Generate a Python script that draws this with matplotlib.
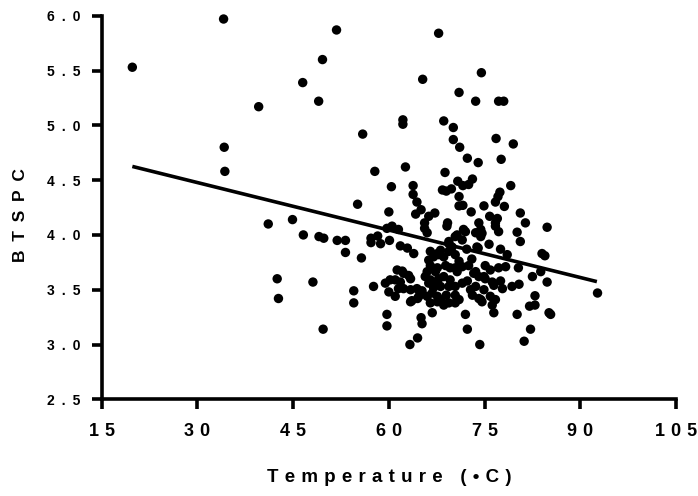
import matplotlib
matplotlib.use("Agg")
import matplotlib.pyplot as plt
import numpy as np

plt.rcParams['font.family'] = ['Liberation Sans', 'DejaVu Sans']

# scatter points (temperature degC, BTSPC)
temp = [
    19.8, 34.1, 34.2, 34.3, 39.6, 46.5, 49.6, 49.0, 51.8, 67.8, 65.3, 74.5, 71.0, 73.6, 77.2, 78.0,
    62.2, 62.2, 68.6, 70.1, 55.9, 70.1, 71.1, 76.8, 79.5, 72.3, 74.0, 77.6, 57.8, 62.6, 68.8, 70.8,
    71.6, 72.5, 73.1, 60.4, 63.8, 63.8, 68.4, 69.0, 69.8, 71.0, 79.1, 77.4, 77.1, 76.7,
    41.1, 44.9, 46.6, 49.05, 49.8, 42.5, 42.7, 48.1, 49.7, 92.7,
    71.0, 71.6, 72.9, 74.9, 78.1, 75.8, 77.0, 80.6, 74.1, 76.7, 81.4, 84.8,
    64.4, 65.05, 64.2, 55.1, 60.0, 66.25, 67.2, 65.6, 69.2,
    51.9, 53.2, 53.2, 55.7, 57.2, 58.25, 57.2, 58.7, 59.7, 60.5, 61.5, 60.1, 61.8, 62.9, 63.9,
    65.6, 66.0, 69.1, 69.4, 69.9, 66.25, 67.0, 67.8, 68.6, 66.5, 67.6, 68.9, 69.6, 66.0, 67.3,
    61.3, 62.1, 63.1, 63.4, 65.7, 66.5, 67.8, 68.6, 69.6, 57.6, 59.45, 60.2, 60.0, 61.0,
    61.5, 62.3, 63.4, 64.4, 65.2, 63.6, 64.5, 66.0, 66.8, 67.6, 66.5, 67.6, 68.6, 69.4,
    54.5, 54.5, 59.7, 59.7, 65.05, 65.2, 66.8, 64.5, 63.3, 66.5, 67.6, 68.1,
    68.1, 69.4, 70.7, 66.25, 67.6, 62.3, 61.0, 61.8, 64.7, 63.4, 69.0, 68.2, 67.0,
    73.6, 74.4, 74.4, 76.7, 77.2, 80.1, 80.6, 70.4, 71.5, 75.7, 74.0, 77.5, 78.55, 84.0, 84.45,
    70.4, 71.0, 70.4, 71.5, 75.1, 75.9, 77.2, 78.3, 73.6, 74.1, 74.9, 80.3, 82.5, 83.8, 84.8,
    71.5, 70.4, 76.2, 77.5, 77.8, 79.3, 80.4, 73.6, 74.9,
    70.4, 71.0, 70.4, 73.1, 74.4, 75.9, 76.7, 76.2, 82.9, 82.05, 82.9,
    72.0, 76.45, 80.1, 85.1, 85.35, 72.3, 82.2, 74.25, 81.2,
    70.7, 71.7, 72.0, 69.4, 69.4, 72.2, 73.8, 74.6, 73.3, 75.1, 76.45, 74.1, 74.6, 72.3, 72.8,
    73.0, 72.5,
]
btspc = [
    5.53, 5.97, 4.80, 4.58, 5.17, 5.39, 5.60, 5.22, 5.87, 5.84, 5.42, 5.48, 5.30, 5.22, 5.22, 5.22,
    5.05, 5.01, 5.04, 4.98, 4.92, 4.87, 4.80, 4.88, 4.83, 4.70, 4.66, 4.69, 4.58, 4.62, 4.57, 4.49,
    4.45, 4.46, 4.51, 4.44, 4.45, 4.37, 4.41, 4.40, 4.42, 4.35, 4.45, 4.39, 4.35, 4.30,
    4.10, 4.14, 4.00, 3.985, 3.97, 3.60, 3.42, 3.57, 3.14, 3.47,
    4.265, 4.27, 4.21, 4.265, 4.26, 4.17, 4.15, 4.20, 4.11, 4.11, 4.11, 4.07,
    4.30, 4.23, 4.19, 4.28, 4.21, 4.17, 4.20, 4.11, 4.11,
    3.95, 3.95, 3.84, 3.79, 3.97, 3.99, 3.93, 3.92, 4.06, 4.08, 4.05, 3.95, 3.90, 3.88, 3.83,
    4.06, 4.02, 4.08, 3.94, 3.89, 3.77, 3.80, 3.82, 3.80, 3.72, 3.70, 3.72, 3.70, 3.665, 3.665,
    3.68, 3.67, 3.63, 3.60, 3.62, 3.59, 3.60, 3.62, 3.59, 3.53, 3.56, 3.59, 3.48, 3.44,
    3.51, 3.51, 3.50, 3.51, 3.49, 3.40, 3.42, 3.44, 3.47, 3.44, 3.38, 3.39, 3.36, 3.38,
    3.49, 3.38, 3.275, 3.17, 3.245, 3.19, 3.29, 3.06, 3.00, 3.85, 3.83, 3.86,
    3.53, 3.53, 3.665, 3.56, 3.57, 3.65, 3.59, 3.57, 3.44, 3.39, 3.45, 3.40, 3.52,
    4.02, 4.05, 3.985, 4.08, 4.03, 4.025, 3.94, 3.985, 3.954, 3.915, 3.88, 3.87, 3.82, 3.83, 3.81,
    3.82, 3.76, 3.70, 3.71, 3.72, 3.68, 3.70, 3.71, 3.665, 3.62, 3.62, 3.70, 3.62, 3.665, 3.57,
    3.56, 3.53, 3.57, 3.58, 3.51, 3.53, 3.55, 3.53, 3.50,
    3.45, 3.41, 3.38, 3.45, 3.41, 3.44, 3.41, 3.36, 3.445, 3.35, 3.36,
    3.275, 3.29, 3.275, 3.29, 3.275, 3.14, 3.14, 3.00, 3.03,
    4.00, 4.05, 4.03, 3.92, 3.85, 3.87, 3.89, 4.015, 3.65, 3.60, 3.54, 3.42, 3.39, 3.58, 3.50,
    3.78, 3.72,
]

# fitted regression line, end points
fit_x = [19.8, 92.6]
fit_y = [4.625, 3.574]

x_ticks = [15, 30, 45, 60, 75, 90, 105]
y_ticks = [2.5, 3.0, 3.5, 4.0, 4.5, 5.0, 5.5, 6.0]


def spaced(s, sep='\u2002'):
    # wide letter spacing like the original
    return sep.join(list(s))


fig = plt.figure(figsize=(6.98, 4.96), dpi=100)
ax = fig.add_axes([0.1457, 0.1949, 0.8228, 0.7734])

ax.scatter(temp, btspc, s=46, color='black', edgecolors='none', zorder=3, clip_on=False)
ax.plot(fit_x, fit_y, color='black', lw=2.6, solid_capstyle='butt', zorder=2)

ax.set_xlim(15, 105)
ax.set_ylim(2.5, 6.0)
ax.set_xticks(x_ticks)
ax.set_yticks(y_ticks)
ax.set_xticklabels([spaced(str(t), '\u2004') for t in x_ticks], fontsize=13, fontweight='bold')
ax.set_yticklabels([spaced('%.1f' % t) for t in y_ticks], fontsize=10, fontweight='bold')

for side in ['top', 'right']:
    ax.spines[side].set_visible(False)
for side in ['left', 'bottom']:
    ax.spines[side].set_linewidth(2.6)
ax.tick_params(axis='both', width=2.6, length=7, color='black')
ax.tick_params(axis='x', pad=10)
ax.tick_params(axis='y', pad=8.5)

ax.set_xlabel(spaced('Temperature (•C)', '\u2004'), fontsize=13.5, fontweight='bold', labelpad=21)
ax.set_ylabel(spaced('BTSPC'), fontsize=12.5, fontweight='bold')
ax.yaxis.set_label_coords(-0.129, 0.48)

fig.savefig('out.png', dpi=100)
